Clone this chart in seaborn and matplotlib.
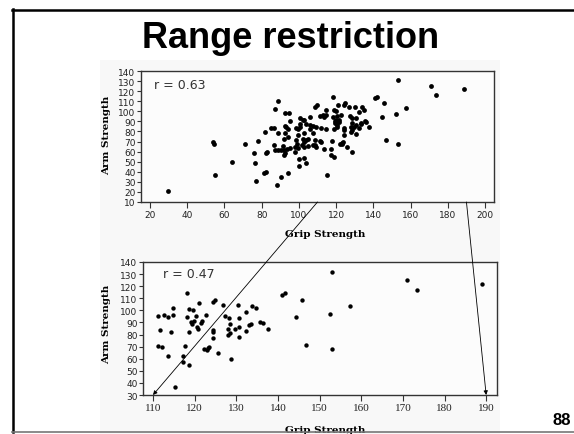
import numpy as np
import pandas as pd
import matplotlib
matplotlib.use("Agg")
import matplotlib.pyplot as plt
import seaborn as sns
from matplotlib.patches import ConnectionPatch, Rectangle
from matplotlib.lines import Line2D

# ---- data -----------------------------------------------------------------
# Subjects with grip strength below 110
grip_low = [29.5, 54.0, 54.5, 54.8, 64.0, 71.0, 75.8, 76.3, 76.8, 78.0,
            81.0, 82.2, 82.2, 83.0, 82.0, 85.0, 86.5, 86.6, 87.2, 87.2,
            88.3, 88.6, 88.8, 89.0, 90.4, 90.6, 91.6, 91.8, 92.0, 92.0,
            92.4, 92.4, 92.4, 92.4, 93.3, 93.8, 94.2, 94.3, 94.4, 94.5,
            95.0, 95.4, 97.8, 97.8, 98.6, 98.6, 99.0, 99.5, 99.5, 99.5,
            100.0, 100.0, 100.4, 100.8, 100.8, 101.7, 102.2, 102.2, 102.7, 103.0,
            103.0, 103.0, 103.0, 103.6, 104.0, 104.0, 105.0, 105.0, 105.8, 105.8,
            105.8, 107.6, 107.6, 107.6, 108.5, 108.5, 108.8, 109.3, 109.3, 109.7]
arm_low = [20.5, 70.0, 67.5, 36.9, 50.0, 67.4, 58.6, 48.8, 30.4, 70.8,
           38.6, 40.2, 58.3, 60.0, 79.7, 83.9, 83.9, 66.5, 61.7, 101.9,
           27.0, 78.7, 110.2, 61.2, 61.2, 35.3, 65.6, 73.0, 61.7, 57.0,
           59.0, 85.6, 98.6, 78.0, 84.6, 63.0, 74.7, 38.6, 82.6, 98.6,
           64.0, 90.6, 65.0, 60.0, 71.4, 83.9, 68.0, 82.0, 76.5, 63.2,
           52.4, 45.8, 84.6, 93.4, 87.8, 66.5, 91.1, 73.0, 78.0, 91.8,
           65.0, 53.3, 69.8, 48.4, 87.8, 71.4, 65.5, 72.4, 82.9, 86.2,
           94.4, 85.2, 78.0, 66.5, 104.3, 66.5, 71.4, 84.6, 65.0, 105.9]

# Subjects with grip strength of 110 and above (the restricted range)
grip_high = [111.3, 112.7, 113.7, 114.7, 114.7, 111.8, 114.3, 111.3, 112.1, 113.7,
             115.3, 117.1, 117.1, 117.7, 118.2, 118.2, 118.7, 119.7, 118.7, 118.7,
             119.2, 119.4, 119.9, 120.3, 120.5, 120.7, 121.1, 121.5, 121.7, 122.7,
             122.3, 122.9, 123.3, 123.5, 124.5, 124.9, 124.5, 124.5, 124.5, 125.7,
             126.8, 127.3, 128.0, 128.1, 128.3, 128.5, 128.5, 128.7, 129.7, 130.3,
             130.7, 130.7, 130.7, 132.4, 132.4, 133.1, 133.5, 133.7, 134.8, 135.7,
             136.3, 137.7, 140.9, 141.7, 144.4, 145.7, 146.8, 153.0, 152.4, 153.0,
             157.4, 171.1, 173.5, 188.9]
arm_high = [95.6, 96.2, 94.3, 96.2, 101.7, 83.8, 82.4, 70.8, 70.0, 62.3,
            36.9, 57.0, 62.3, 70.8, 114.1, 94.3, 101.1, 100.3, 82.4, 54.8,
            90.6, 88.7, 90.9, 95.6, 86.5, 84.6, 106.1, 89.3, 91.5, 96.4,
            68.0, 67.2, 68.6, 70.0, 106.7, 108.6, 83.8, 81.9, 76.9, 64.5,
            104.4, 95.6, 84.6, 79.6, 93.4, 88.7, 81.0, 59.8, 84.6, 104.4,
            93.4, 86.0, 77.7, 98.9, 83.2, 87.9, 88.7, 103.9, 101.7, 90.6,
            89.6, 84.6, 113.0, 114.6, 94.5, 108.6, 71.4, 131.5, 97.0, 68.0,
            103.6, 124.9, 116.6, 122.0]

r_full = 0.63
r_restricted = 0.47
cutoff_low, cutoff_high = 110, 190

full_xticks = list(range(20, 201, 20))
full_yticks = list(range(10, 141, 10))
restricted_xticks = list(range(110, 191, 10))
restricted_yticks = list(range(30, 141, 10))

full = pd.DataFrame({"grip": grip_low + grip_high, "arm": arm_low + arm_high})
restricted = pd.DataFrame({"grip": grip_high, "arm": arm_high})

# ---- figure ----------------------------------------------------------------
W, H = 574, 435
fig = plt.figure(figsize=(W / 100, H / 100), dpi=100)
fig.patch.set_facecolor("white")


def fx(px):
    return px / W


def fy(py):
    return 1 - py / H


# slide frame
fig.add_artist(Line2D([fx(12.5), fx(12.5)], [fy(10), fy(433)], color="black", lw=1.8))
fig.add_artist(Line2D([fx(12), 1.0], [fy(10.5), fy(10.5)], color="black", lw=1.8))
fig.add_artist(Line2D([fx(12), 1.0], [fy(433), fy(433)], color="#777777", lw=1.2, zorder=5))

# backdrop of the pasted chart image
fig.add_artist(Rectangle((fx(100), 0), fx(500) - fx(100), fy(61), transform=fig.transFigure,
                         facecolor="#f8f8f8", edgecolor="none", zorder=-5))

fig.text(fx(291), fy(38), "Range restriction", ha="center", va="center",
         fontsize=26, fontweight="bold", family="Liberation Sans")
fig.text(fx(562), fy(421), "88", ha="center", va="center",
         fontsize=12, fontweight="bold", family="Liberation Sans")

ax1 = fig.add_axes([fx(141), fy(203), fx(494) - fx(141), fy(72) - fy(203)])
ax2 = fig.add_axes([fx(143), fy(396), fx(497) - fx(143), fy(263) - fy(396)])

sns.scatterplot(data=full, x="grip", y="arm", ax=ax1, color="black", s=12,
                linewidth=0, legend=False)
sns.scatterplot(data=restricted, x="grip", y="arm", ax=ax2, color="black", s=10,
                linewidth=0, legend=False)

ax1.set_xlim(15.2, 204.8)
ax1.set_ylim(10, 140)
ax1.set_xticks(full_xticks)
ax1.set_yticks(full_yticks)
ax2.set_xlim(107.6, 192.6)
ax2.set_ylim(30, 140)
ax2.set_xticks(restricted_xticks)
ax2.set_yticks(restricted_yticks)

for ax in (ax1, ax2):
    ax.set_facecolor("#fcfcfc")
    ax.set_xlabel("")
    ax.set_ylabel("")
    for sp in ax.spines.values():
        sp.set_color("#333333")
        sp.set_linewidth(1.0)
    ax.tick_params(axis="both", direction="out", length=3, width=0.8,
                   color="#333333", pad=1, labelsize=6.5, labelcolor="#222222")
    ax.tick_params(axis="x", length=4, pad=2)

for lab in ax2.get_xticklabels():
    lab.set_family("Liberation Serif")
    lab.set_fontsize(8)

ax1.text(0.037, 0.90, f"r = {r_full}", transform=ax1.transAxes, ha="left",
         va="center", fontsize=9, color="#333333")
ax2.text(0.056, 0.91, f"r = {r_restricted}", transform=ax2.transAxes, ha="left",
         va="center", fontsize=9, color="#333333")

# axis titles
for py in (135, 324):
    fig.text(fx(107), fy(py), "Arm Strength", rotation=90, ha="center", va="center",
             fontsize=7.5, fontweight="bold", family="DejaVu Serif")
fig.text(fx(325), fy(235), "Grip Strength", ha="center", va="center",
         fontsize=7.5, fontweight="bold", family="DejaVu Serif")
fig.text(fx(325), fy(431), "Grip Strength", ha="center", va="center",
         fontsize=7.5, fontweight="bold", family="DejaVu Serif")

# lines linking the restricted range on the full plot to the zoomed plot
for xv in (cutoff_low, cutoff_high):
    con = ConnectionPatch(xyA=(xv, 10), coordsA="data", axesA=ax1,
                          xyB=(xv, 30), coordsB="data", axesB=ax2,
                          arrowstyle="-|>", mutation_scale=6, color="black", lw=0.6,
                          zorder=6)
    fig.add_artist(con)

fig.savefig("out.png", dpi=100)
